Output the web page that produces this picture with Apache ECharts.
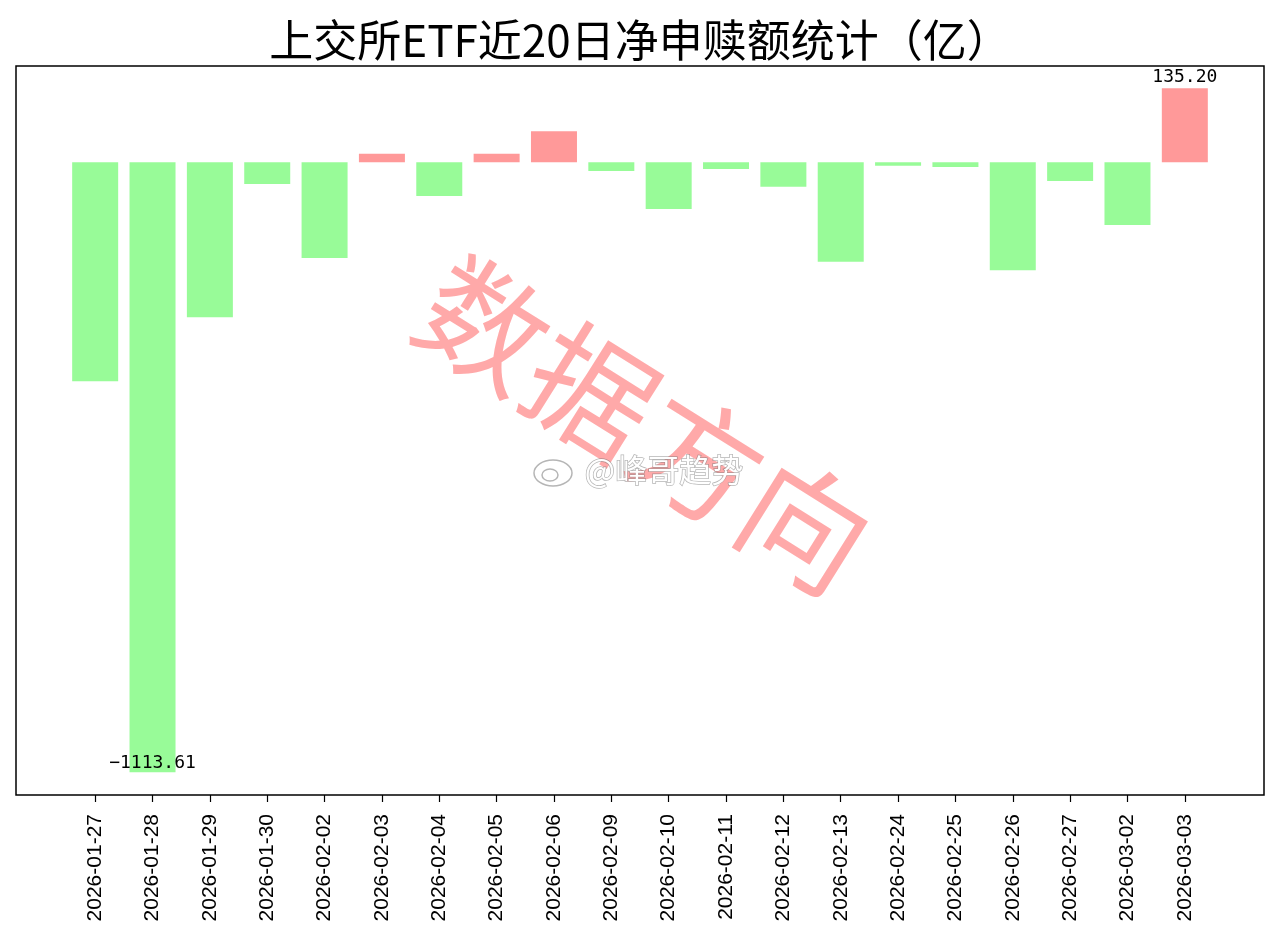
<!DOCTYPE html>
<html>
<head>
<meta charset="utf-8">
<script src="https://cdn.jsdelivr.net/npm/echarts@6/dist/echarts.min.js"></script>
<style>
html,body{margin:0;padding:0;background:#fff;}
#main{width:1280px;height:939px;}
</style>
</head>
<body>
<div id="main"></div>
<script>
const titleText = '上交所ETF近20日净申赎额统计（亿）';
const categories = ['2026-01-27','2026-01-28','2026-01-29','2026-01-30','2026-02-02','2026-02-03','2026-02-04','2026-02-05','2026-02-06','2026-02-09','2026-02-10','2026-02-11','2026-02-12','2026-02-13','2026-02-24','2026-02-25','2026-02-26','2026-02-27','2026-03-02','2026-03-03'];
const values = [-399.8,-1113.61,-283.0,-39.6,-174.7,15.7,-61.5,15.7,56.6,-15.9,-85.2,-12.2,-44.5,-181.4,-6.2,-8.6,-197.2,-34.1,-114.5,135.20];
const yRange = [-1155, 175.8];
const watermark = '数据方向';
const weiboMark = '@峰哥趋势';

const maxV = Math.max(...values), minV = Math.min(...values);
const chart = echarts.init(document.getElementById('main'));
const data = values.map(v => {
  const item = {value: v};
  if (v === maxV) item.label = {show: true, position: 'top', distance: 2};
  if (v === minV) item.label = {show: true, position: 'insideBottom', distance: 0};
  return item;
});
chart.setOption({
  backgroundColor: '#fff',
  animation: false,
  title: {
    text: titleText, left: 'center', top: 13,
    textStyle: {fontFamily: 'Noto Sans CJK SC', fontSize: 44, fontWeight: 'normal', color: '#000'}
  },
  grid: {left: 66.5, right: 66.5, top: 66, bottom: 144},
  xAxis: {
    type: 'category', data: categories,
    axisLine: {show: false, onZero: false},
    axisTick: {show: true, alignWithLabel: true, length: 7, lineStyle: {color: '#000', width: 1.2}},
    axisLabel: {rotate: 90, margin: 19, fontFamily: 'Liberation Sans', fontSize: 21, color: '#000'}
  },
  yAxis: {type: 'value', min: yRange[0], max: yRange[1], show: false, splitLine: {show: false}},
  series: [{
    type: 'bar', data: data, barWidth: 46,
    itemStyle: {color: p => p.value >= 0 ? '#ff9999' : '#98fb98'},
    label: {show: false, formatter: p => p.value.toFixed(2).replace('-', '\u2212'), fontFamily: 'DejaVu Sans Mono', fontSize: 18, color: '#000'}
  }],
  graphic: [
    {type: 'rect', shape: {x: 16, y: 66, width: 1248, height: 729}, style: {fill: 'none', stroke: '#000', lineWidth: 1.5}, z: 10},
    {type: 'text', x: 645, y: 425, rotation: -32 * Math.PI / 180, z: 5,
      style: {text: watermark, fontFamily: 'Noto Sans CJK SC', fontWeight: 'normal', fontSize: 126, fill: 'rgba(255,140,140,0.75)', align: 'center', verticalAlign: 'middle'}},
    {type: 'ellipse', shape: {cx: 553, cy: 473, rx: 19, ry: 13}, z: 20,
      style: {fill: '#fff', stroke: 'rgba(120,120,120,0.55)', lineWidth: 1.5}},
    {type: 'ellipse', shape: {cx: 550, cy: 475, rx: 8, ry: 6}, z: 21,
      style: {fill: '#fff', stroke: 'rgba(120,120,120,0.55)', lineWidth: 1.5}},
    {type: 'text', x: 664, y: 470, z: 20,
      style: {text: weiboMark, fontFamily: 'Noto Sans CJK SC', fontSize: 32, fill: '#fff', stroke: 'rgba(120,120,120,0.55)', lineWidth: 1.5, align: 'center', verticalAlign: 'middle'}}
  ]
});
</script>
</body>
</html>
